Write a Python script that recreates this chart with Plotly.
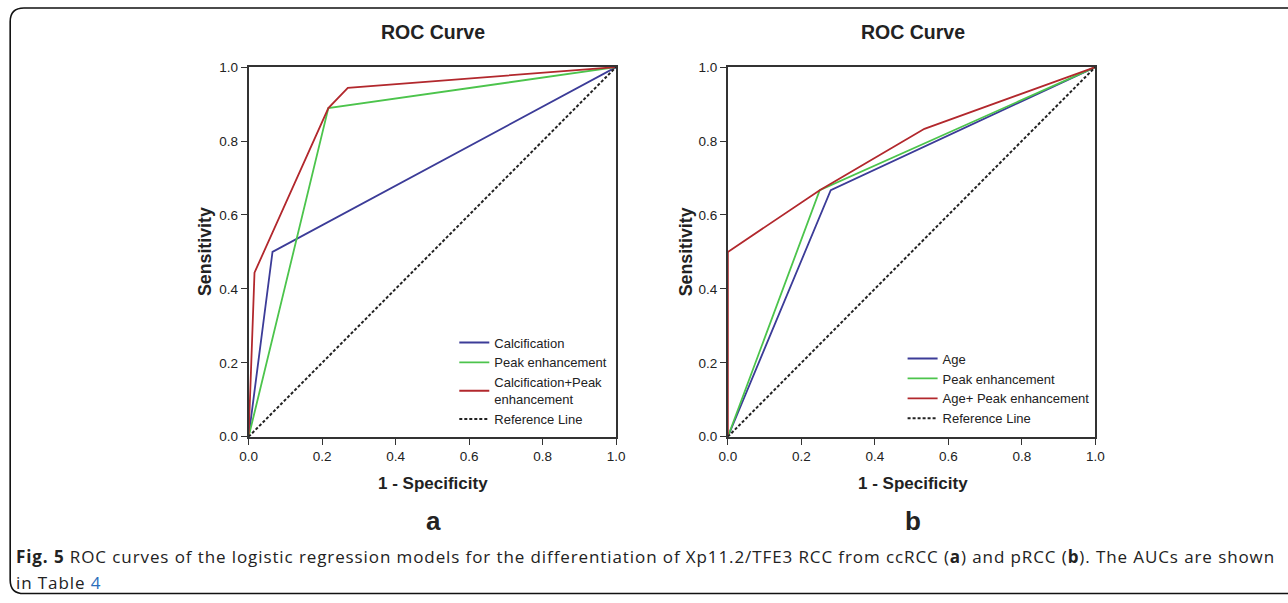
import plotly.graph_objects as go

FW, FH = 1288, 603
# the rendered picture is shown inset by 8px and scaled; positions below are in
# reference-picture pixels and converted to page pixels
SX, SY, PAD = 1272 / 1288, 587 / 603, 8

# ---------------- data ----------------
a_calc_x = [0.0, 0.065, 1.0]
a_calc_y = [0.0, 0.5, 1.0]
a_peak_x = [0.0, 0.217, 1.0]
a_peak_y = [0.0, 0.889, 1.0]
a_comb_x = [0.0, 0.016, 0.217, 0.27, 1.0]
a_comb_y = [0.0, 0.444, 0.889, 0.944, 1.0]

b_age_x = [0.0, 0.28, 1.0]
b_age_y = [0.0, 0.667, 1.0]
b_peak_x = [0.0, 0.25, 1.0]
b_peak_y = [0.0, 0.667, 1.0]
b_comb_x = [0.0, 0.0, 0.25, 0.535, 1.0]
b_comb_y = [0.0, 0.5, 0.667, 0.833, 1.0]

ref_x = [0.0, 1.0]
ref_y = [0.0, 1.0]

names_a = ["Calcification", "Peak enhancement", "Calcification+Peak<br>enhancement", "Reference Line"]
names_b = ["Age", "Peak enhancement", "Age+ Peak enhancement", "Reference Line"]
ticks = [0.0, 0.2, 0.4, 0.6, 0.8, 1.0]
tick_text = ["0.0", "0.2", "0.4", "0.6", "0.8", "1.0"]

BLUE = "#3c3c98"
GREEN = "#4cc44c"
RED = "#b2282d"
LW = 1.8
FONT = "Liberation Sans, Arial"

def px(x):
    return ((x - PAD) / SX) / FW

def py(y):
    return 1 - ((y - PAD) / SY) / FH

fig = go.Figure()

def add_panel(xs, ys, names, xa, ya, legend):
    cols = [BLUE, GREEN, RED]
    for (x, y), n, c in zip(zip(xs, ys), names[:3], cols):
        fig.add_trace(go.Scatter(x=x, y=y, mode="lines", name=n,
                                 line=dict(color=c, width=LW),
                                 xaxis=xa, yaxis=ya, legend=legend))
    fig.add_trace(go.Scatter(x=ref_x, y=ref_y, mode="lines", name=names[3],
                             line=dict(color="#222222", width=2, dash="3px,2px"),
                             xaxis=xa, yaxis=ya, legend=legend))

add_panel([a_calc_x, a_peak_x, a_comb_x], [a_calc_y, a_peak_y, a_comb_y], names_a, "x", "y", "legend")
add_panel([b_age_x, b_peak_x, b_comb_x], [b_age_y, b_peak_y, b_comb_y], names_b, "x2", "y2", "legend2")

axis_common = dict(range=[0, 1], tickvals=ticks, ticktext=tick_text, showgrid=False, zeroline=False,
                   showline=True, linecolor="#333333", linewidth=1.6, mirror=True,
                   ticks="outside", ticklen=6, tickwidth=1.4, tickcolor="#333333",
                   tickfont=dict(family=FONT, size=13.5, color="#222222"))

ydom = [py(437), py(68)]
leg_font = dict(family=FONT, size=13, color="#222222")
fig.update_layout(
    width=FW, height=FH,
    margin=dict(l=0, r=0, t=0, b=0),
    paper_bgcolor="white", plot_bgcolor="white",
    xaxis=dict(domain=[px(248), px(616)], anchor="y", **axis_common),
    yaxis=dict(domain=ydom, anchor="x", **axis_common),
    xaxis2=dict(domain=[px(728), px(1096)], anchor="y2", **axis_common),
    yaxis2=dict(domain=ydom, anchor="x2", **axis_common),
    legend=dict(x=px(454), y=py(328), xanchor="left", yanchor="top", font=leg_font,
                bgcolor="rgba(0,0,0,0)", tracegroupgap=0, itemwidth=30),
    legend2=dict(x=px(903), y=py(344), xanchor="left", yanchor="top", font=leg_font,
                 bgcolor="rgba(0,0,0,0)", tracegroupgap=0, itemwidth=30),
    showlegend=True,
)

title_font = dict(family=FONT, size=19.5, color="#222222")
axt_font = dict(family=FONT, size=17, color="#222222")
ayt_font = dict(family=FONT, size=17.8, color="#222222")
ann = []
for cx in (433, 913):
    ann.append(dict(x=px(cx), y=py(33), text="<b>ROC Curve</b>", font=title_font))
    ann.append(dict(x=px(cx), y=py(484), text="<b>1 - Specificity</b>", font=axt_font))
for lx in (205, 686):
    ann.append(dict(x=px(lx), y=py(252), text="<b>Sensitivity</b>", font=ayt_font, textangle=-90))
ann.append(dict(x=px(433), y=py(521), text="<b>a</b>", font=dict(family=FONT, size=26, color="#222222")))
ann.append(dict(x=px(913), y=py(521), text="<b>b</b>", font=dict(family=FONT, size=26, color="#222222")))

cap_font = dict(family="Open Sans, Noto Sans", size=17, color="#222222")
LS = "<span style='letter-spacing:0.9px'>"
ann.append(dict(x=px(13.5), y=py(557), xanchor="left",
                text=LS + "<b>Fig. 5</b> ROC curves of the logistic regression models for the differentiation of Xp11.2/TFE3 RCC from ccRCC (<b>a</b>) and pRCC (<b>b</b>). The AUCs are shown</span>",
                font=cap_font))
ann.append(dict(x=px(13.5), y=py(583), xanchor="left",
                text=LS + "in Table </span><span style='color:#2a6ebb;letter-spacing:0.9px'>4</span>", font=cap_font))

for a in ann:
    a.setdefault("xanchor", "center")
    a["yanchor"] = "middle"
    a["xref"] = "paper"
    a["yref"] = "paper"
    a["showarrow"] = False
fig.update_layout(annotations=ann)

# rounded frame around the figure (page pixels)
r = 14
fx0, fy0, fx1, fy1 = 1.2, 1.0, 1300, 601.5
def qx(v):
    return v / FW
def qy(v):
    return 1 - v / FH
path = (f"M {qx(fx1)},{qy(fy0)} L {qx(fx0 + r)},{qy(fy0)} "
        f"Q {qx(fx0)},{qy(fy0)} {qx(fx0)},{qy(fy0 + r)} "
        f"L {qx(fx0)},{qy(fy1 - r)} Q {qx(fx0)},{qy(fy1)} {qx(fx0 + r)},{qy(fy1)} L {qx(fx1)},{qy(fy1)}")
fig.add_shape(type="path", path=path, xref="paper", yref="paper",
              line=dict(color="#111111", width=1.6))

fig.write_html("out.html", config={"displayModeBar": False},
               post_script="document.body.style.margin='0px';document.body.style.overflow='hidden';")
